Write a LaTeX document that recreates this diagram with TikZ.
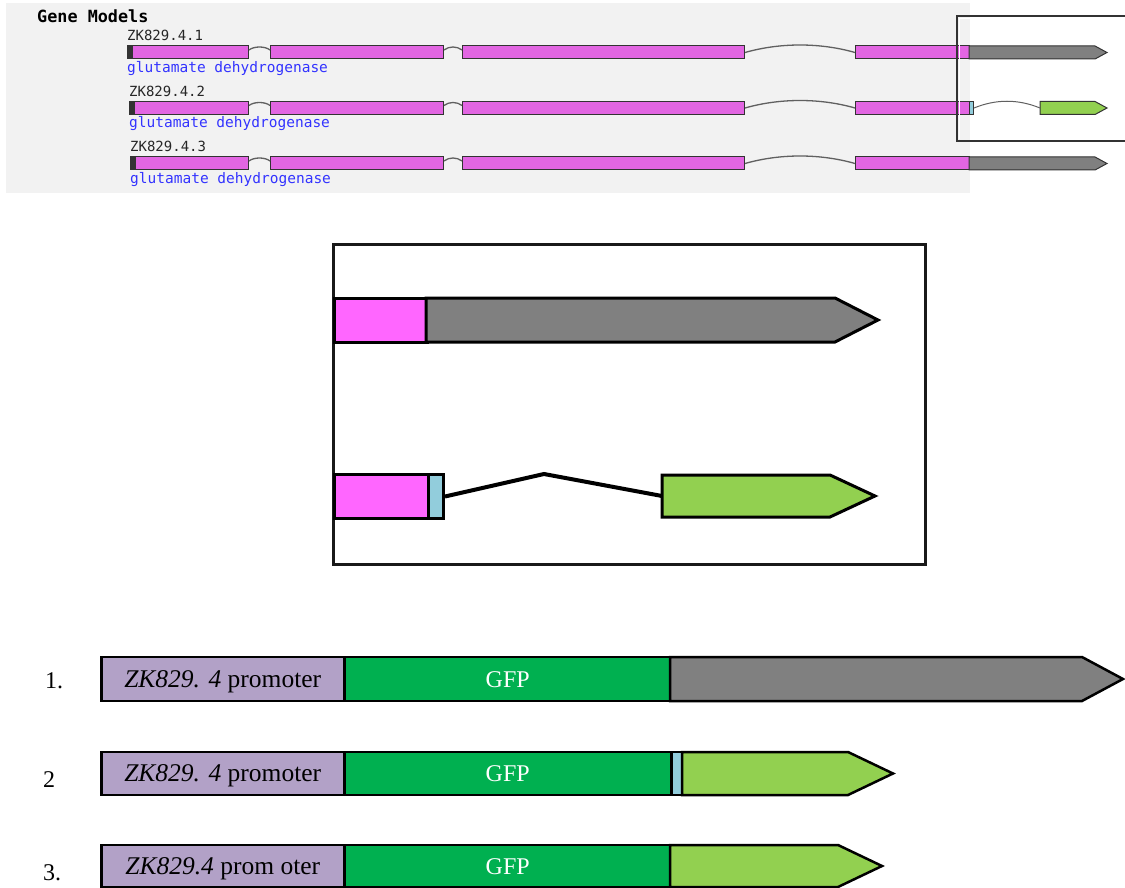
\documentclass[tikz,border=0pt]{standalone}
\usepackage{fontspec}
\setmainfont{Liberation Serif}
\newfontfamily\monofont{DejaVu Sans Mono}
\usetikzlibrary{calc}

\definecolor{panelbg}{RGB}{242,242,242}
\definecolor{exonpink}{RGB}{226,102,226}
\definecolor{exonmag}{RGB}{255,102,255}
\definecolor{utrgray}{RGB}{128,128,128}
\definecolor{utrgreen}{RGB}{146,208,80}
\definecolor{utrblue}{RGB}{146,205,220}
\definecolor{gfpgreen}{RGB}{0,176,80}
\definecolor{promlilac}{RGB}{178,161,199}
\definecolor{linkblue}{RGB}{51,51,255}
\definecolor{outline}{RGB}{51,51,51}
\definecolor{introngray}{RGB}{96,96,96}

% a block with a pointed 3' end: [style]{x start}{x end of body}{x of tip}{y centre}{half height}
\newcommand\tippiece[6][]{%
  \draw[#1] (#2,#5-#6) -- (#3,#5-#6) -- (#4,#5) -- (#3,#5+#6) -- (#2,#5+#6) -- cycle;}

% one transcript of the gene model track: {prefix}{bar centre y}{start x}
\newcommand\generow[3]{%
  \node[topexon, minimum width={(248-#3)*1pt}] (#1e1) at (#3,#2) {};
  \fill[outline] (#3,#2-6.5) rectangle (#3+6,#2+6.5);
  \node[topexon, minimum width=173pt] (#1e2) at (270,#2) {};
  \node[topexon, minimum width=282pt] (#1e3) at (462,#2) {};
  \node[topexon, minimum width=114pt] (#1e4) at (855,#2) {};
  \draw[hump] ($(#1e1.east)+(0,-2.5)$) .. controls +(5,-4) and +(-5,-4) .. ($(#1e2.west)+(0,-2.5)$);
  \draw[hump] ($(#1e2.east)+(0,-2.5)$) .. controls +(5,-4) and +(-5,-4) .. ($(#1e3.west)+(0,-2.5)$);
  \draw[hump] (#1e3.east) .. controls +(35,-10) and +(-35,-10) .. (#1e4.west);
}

\begin{document}
\begin{tikzpicture}[x=1pt,y=-1pt,
  topexon/.style={draw=outline, line width=1pt, fill=exonpink, inner sep=0pt,
                  minimum height=13pt, anchor=west},
  toputr/.style={draw=outline, line width=1pt},
  hump/.style={draw=introngray, line width=1.3pt},
  monolbl/.style={font=\monofont\fontsize{14}{14}\selectfont, text=black!85, inner sep=0pt, anchor=base west},
  desclbl/.style={font=\monofont\fontsize{14.5}{14.5}\selectfont, text=linkblue, inner sep=0pt, anchor=base west},
  midpart/.style={draw=black, line width=3pt, inner sep=0pt, anchor=west, minimum height=44pt},
  midutr/.style={draw=black, line width=3pt},
  lowpart/.style={draw=black, line width=2.5pt, inner sep=0pt, anchor=west,
                  font=\fontsize{24}{28}\selectfont, text depth=0pt, text height=16pt},
  promtext/.style={font=\fontsize{25.5}{28}\selectfont},
  lowutr/.style={draw=black, line width=2.5pt},
  numlbl/.style={font=\fontsize{24}{28}\selectfont, inner sep=0pt, anchor=base west},
]
\useasboundingbox (0,0) rectangle (1125,888);
\fill[white] (0,0) rectangle (1125,888);

% ---------- gene model track ----------
\fill[panelbg] (6,3) rectangle (970,193);
\node[font=\monofont\bfseries\fontsize{16.8}{17}\selectfont, inner sep=0pt, anchor=base west]
  (title) at (37,23) {Gene Models};

\node[monolbl] (n1) at (127,41) {ZK829.4.1};
\node[desclbl] (d1) at (127,73) {glutamate dehydrogenase};
\node[monolbl] (n2) at (129,97) {ZK829.4.2};
\node[desclbl] (d2) at (129,128) {glutamate dehydrogenase};
\node[monolbl] (n3) at (130,152) {ZK829.4.3};
\node[desclbl] (d3) at (130,184) {glutamate dehydrogenase};

\generow{a}{52.5}{127}
\generow{b}{108}{129}
\generow{c}{163.5}{130}

% 3' ends
\tippiece[toputr, fill=utrgray]{969}{1095}{1107}{52.5}{6.5}
\tippiece[toputr, fill=utrgray]{969}{1095}{1107}{163.5}{6.5}
\node[topexon, fill=utrblue, minimum width=4pt] (bblue) at (969,108) {};
\coordinate (bgreen) at (1040,108);
\tippiece[toputr, fill=utrgreen]{1040}{1095}{1107}{108}{6.5}
\draw[hump, line width=1pt] (bblue.east) .. controls +(22,-9) and +(-22,-9) .. (bgreen);

% highlight frame around the 3' ends
\draw[white, line width=1pt] (959.5,18.5) -- (1140,18.5);
\draw[white, line width=1pt] (959.5,18.5) -- (959.5,139);
\draw[outline, line width=1.5pt] (957,16) rectangle (1140,141);

% ---------- enlarged 3' ends ----------
\draw[draw=black!90, line width=3pt] (333,244) rectangle (925,564);

\node[midpart, fill=exonmag, minimum width=93pt] (ma) at (333,320) {};
\coordinate (mgray) at (426,320);
\tippiece[midutr, fill=utrgray]{426}{835}{878}{320}{22}

\node[midpart, fill=exonmag, minimum width=94pt] (mb) at (333,496.5) {};
\node[midpart, fill=utrblue, minimum width=15pt] (mblue) at (427,496.5) {};
\coordinate (mpeak) at (544,474);
\coordinate (mgreen) at (662,496);
\draw[black, line width=4pt] (mblue.east) -- (mpeak) -- (mgreen);
\tippiece[midutr, fill=utrgreen]{662}{830}{875}{496}{21}

% ---------- reporter constructs ----------
\node[numlbl] (l1) at (45,688) {1.};
\node[lowpart, promtext, fill=promlilac, minimum width=243pt, minimum height=44pt] (p1) at (100,679)
  {\textit{ZK829. 4} promoter};
\node[lowpart, fill=gfpgreen, text=white, minimum width=327pt, minimum height=44pt] (g1) at (343,679) {GFP};
\tippiece[lowutr, fill=utrgray]{670}{1082}{1123}{679}{22}

\node[numlbl] (l2) at (43,787) {2};
\node[lowpart, promtext, fill=promlilac, minimum width=243pt, minimum height=43pt] (p2) at (100,773.5)
  {\textit{ZK829. 4} promoter};
\node[lowpart, fill=gfpgreen, text=white, minimum width=327pt, minimum height=43pt] (g2) at (343,773.5) {GFP};
\node[lowpart, fill=utrblue, minimum width=12pt, minimum height=43pt] (b2) at (670,773.5) {};
\tippiece[lowutr, fill=utrgreen]{682}{848}{893}{773.5}{21.5}

\node[numlbl] (l3) at (43,880) {3.};
\node[lowpart, promtext, fill=promlilac, minimum width=243pt, minimum height=42pt] (p3) at (100,866)
  {\textit{ZK829.4} prom oter};
\node[lowpart, fill=gfpgreen, text=white, minimum width=327pt, minimum height=42pt] (g3) at (343,866) {GFP};
\tippiece[lowutr, fill=utrgreen]{670}{838}{882}{866}{21}
\end{tikzpicture}
\end{document}
